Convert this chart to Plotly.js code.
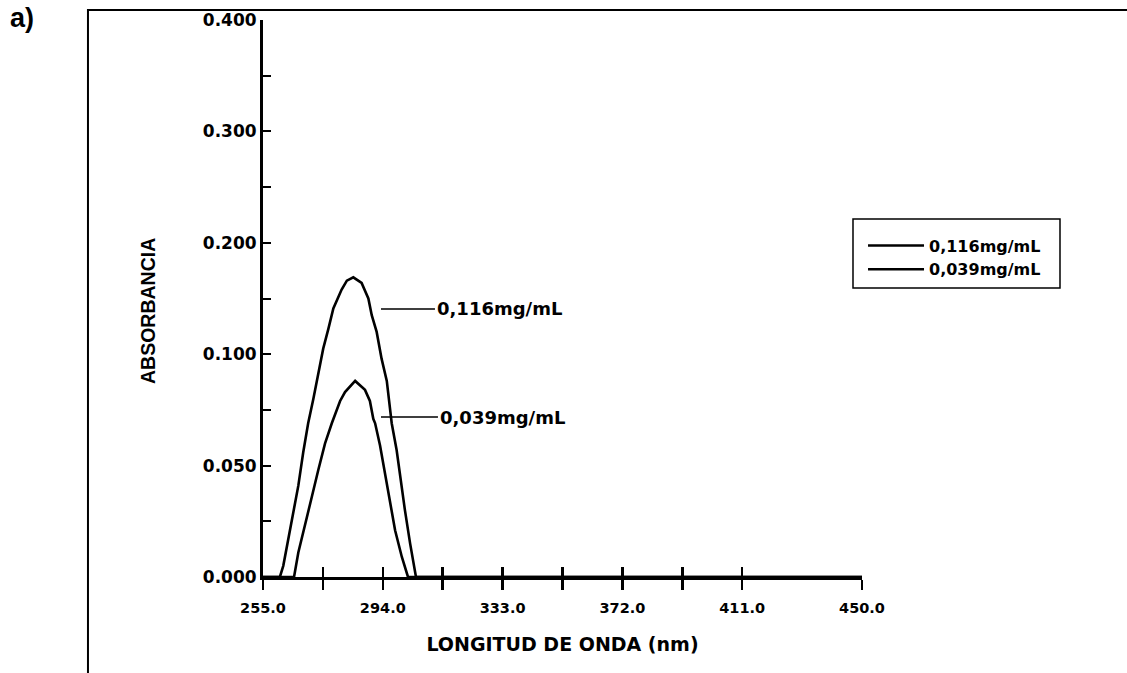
<!DOCTYPE html>
<html>
<head>
<meta charset="utf-8">
<script src="https://cdn.plot.ly/plotly-3.0.1.min.js"></script>
<style>html,body{margin:0;padding:0;background:#fff;}#chart{width:1127px;height:673px;}</style>
</head>
<body>
<div id="chart"></div>
<script>
// Wavelength (nm) and absorbance
var wavelength116 = [255.0, 260.5, 261.6, 263.2, 264.9, 266.5, 268.1, 269.7, 271.4, 273.0, 274.6, 276.3, 277.9, 280.6, 282.3, 284.4, 287.1, 289.3, 290.4, 292.0, 293.6, 295.3, 296.3, 296.9, 298.5, 299.6, 301.2, 302.9, 304.5, 304.8, 450.0];
var absorb116     = [0.000, 0.000, 0.005, 0.017, 0.030, 0.041, 0.056, 0.069, 0.080, 0.091, 0.105, 0.123, 0.141, 0.158, 0.166, 0.169, 0.164, 0.150, 0.135, 0.120, 0.098, 0.088, 0.077, 0.069, 0.057, 0.045, 0.030, 0.015, 0.002, 0.000, 0.000];

var wavelength039 = [255.0, 265.1, 266.5, 268.7, 270.9, 273.0, 275.2, 277.4, 277.9, 280.1, 281.7, 285.0, 288.2, 289.8, 290.9, 291.5, 293.1, 294.7, 296.3, 298.0, 300.2, 301.8, 302.2, 450.0];
var absorb039     = [0.000, 0.000, 0.011, 0.023, 0.036, 0.048, 0.060, 0.069, 0.071, 0.079, 0.083, 0.088, 0.084, 0.079, 0.071, 0.069, 0.059, 0.047, 0.035, 0.021, 0.009, 0.002, 0.000, 0.000];

var seriesNames = ["0,116mg/mL", "0,039mg/mL"];

// Axis ticks as printed on the reference (y labels are evenly spaced)
var xTickValues = [255, 274.5, 294, 313.5, 333, 352.5, 372, 391.5, 411, 450];
var xTickLabels = ["255.0", "", "294.0", "", "333.0", "", "372.0", "", "411.0", "450.0"];
var yTickLabels = ["0.000", "", "0.050", "", "0.100", "", "0.200", "", "0.300", "", "0.400"];

// In-plot labels
var labelText = ["0,116mg/mL", "0,039mg/mL"];
var labelX = [293.4, 293.4];
var labelY = [0.1406, 0.0718];

// The printed y scale: 0 - 0.100 on the first two major steps, 0.100 per step above
function axisPos(a) { return a <= 0.1 ? a / 0.05 : 2 + (a - 0.1) / 0.1; }
var yTickValues = yTickLabels.map(function (_, i) { return i * 0.5; });

var boldFont = "DejaVu Sans, Liberation Sans, Arial, sans-serif";
var arialFont = "Liberation Sans, Arial, sans-serif";

var traces = [
  {x: wavelength116, y: absorb116.map(axisPos), name: seriesNames[0], type: "scatter", mode: "lines",
   line: {color: "#000", width: 2.6}, hoverinfo: "skip"},
  {x: wavelength039, y: absorb039.map(axisPos), name: seriesNames[1], type: "scatter", mode: "lines",
   line: {color: "#000", width: 2.6}, hoverinfo: "skip"},
  {x: [], y: [], xaxis: "x2", showlegend: false, hoverinfo: "skip", type: "scatter", mode: "lines"}
];

var leaderLen = [54, 57];
var annotations = labelText.map(function (t, i) {
  return {x: labelX[i], y: axisPos(labelY[i]), xref: "x", yref: "y", text: t,
    showarrow: true, arrowhead: 0, arrowwidth: 1.5, arrowcolor: "#000",
    ax: leaderLen[i], ay: 0, xanchor: "left", standoff: 0,
    font: {family: boldFont, size: 18, color: "#000", weight: "bold"}};
});
annotations.push({text: "a)", xref: "paper", yref: "paper", x: -0.425, y: 1.034,
  xanchor: "left", yanchor: "top", showarrow: false,
  font: {family: arialFont, size: 27, color: "#000", weight: "bold"}});
annotations.push({text: "ABSORBANCIA", xref: "paper", yref: "paper", x: -0.192, y: 0.4776,
  xanchor: "center", yanchor: "middle", textangle: -90, showarrow: false,
  font: {family: arialFont, size: 19.5, color: "#000", weight: "bold"}});

var layout = {
  width: 1127, height: 673,
  margin: {l: 263, r: 265, t: 20, b: 96, pad: 0},
  paper_bgcolor: "#fff", plot_bgcolor: "#fff",
  showlegend: true,
  legend: {x: 1.0017, y: 0.6256, xanchor: "left", yanchor: "top",
    borderwidth: 0, bgcolor: "rgba(0,0,0,0)",
    itemwidth: 56, tracegroupgap: 0,
    font: {family: boldFont, size: 16, color: "#000", weight: "bold"}},
  xaxis: {
    range: [255, 450], showgrid: false, zeroline: false,
    showline: true, linecolor: "#000", linewidth: 3,
    tickmode: "array", tickvals: xTickValues, ticktext: xTickLabels,
    ticks: "outside", ticklen: 10, tickwidth: 2.5, tickcolor: "#000",
    ticklabelstandoff: 6,
    tickfont: {family: boldFont, size: 14.5, color: "#000", weight: "bold"},
    title: {text: "LONGITUD DE ONDA (nm)", standoff: 23,
      font: {family: boldFont, size: 19, color: "#000", weight: "bold"}},
    automargin: false, fixedrange: true
  },
  xaxis2: {
    overlaying: "x", matches: "x", anchor: "y", side: "bottom",
    showgrid: false, zeroline: false, showline: false,
    tickmode: "array", tickvals: xTickValues, showticklabels: false,
    ticks: "inside", ticklen: 10, tickwidth: 2.5, tickcolor: "#000", fixedrange: true
  },
  yaxis: {
    range: [0, 5], showgrid: false, zeroline: false,
    showline: true, linecolor: "#000", linewidth: 3,
    tickmode: "array", tickvals: yTickValues, ticktext: yTickLabels,
    ticks: "inside", ticklen: 8, tickwidth: 2, tickcolor: "#000",
    tickfont: {family: boldFont, size: 17, color: "#000", weight: "bold"},
    automargin: false, fixedrange: true
  },
  shapes: [
    {type: "rect", xref: "paper", yref: "paper", x0: -0.2922, x1: 2, y0: -1, y1: 1.018,
     line: {color: "#000", width: 2}, fillcolor: "rgba(0,0,0,0)", layer: "below"},
    {type: "rect", xref: "paper", yref: "paper", x0: 0.98497, x1: 1.33055, y0: 0.51885, y1: 0.64273,
     line: {color: "#000", width: 1.5}, fillcolor: "rgba(0,0,0,0)", layer: "below"}
  ],
  annotations: annotations
};

Plotly.newPlot("chart", traces, layout, {staticPlot: true, displayModeBar: false});
</script>
</body>
</html>
